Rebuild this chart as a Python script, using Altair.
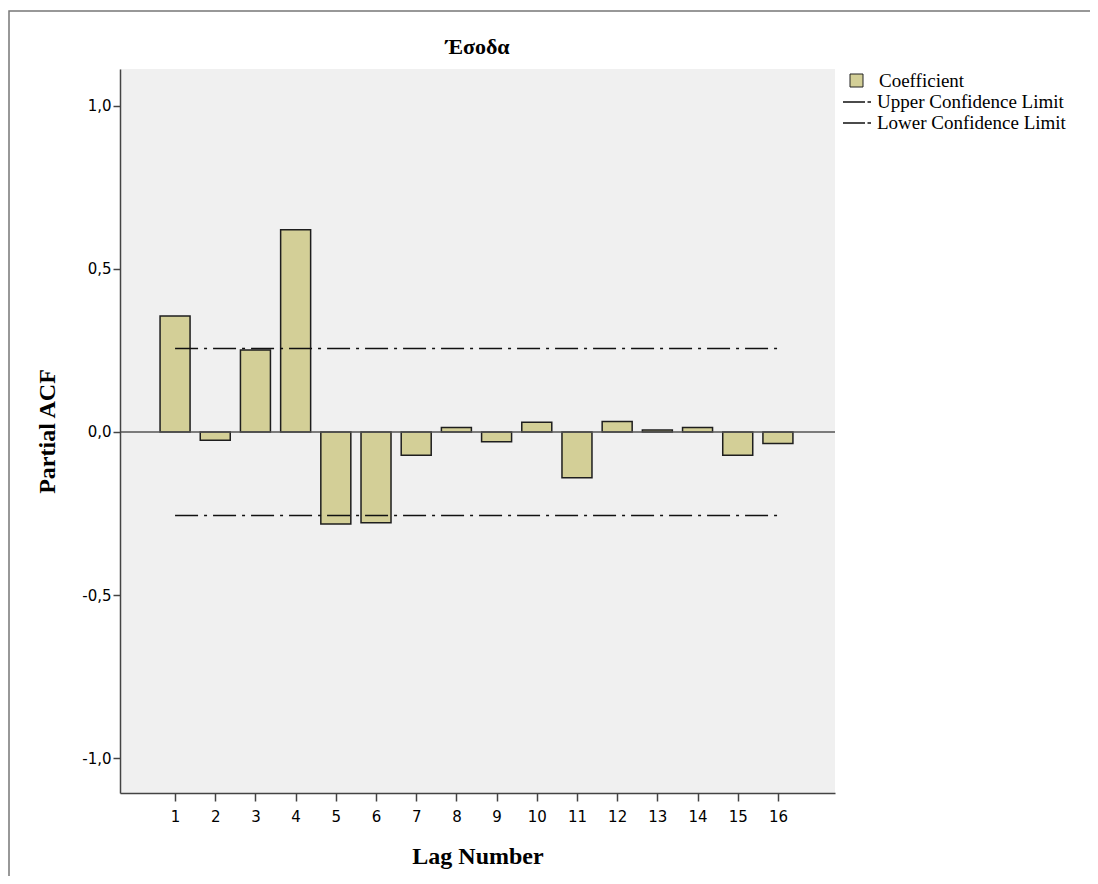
import altair as alt
import pandas as pd

# ---- data ----
lags = [1, 2, 3, 4, 5, 6, 7, 8, 9, 10, 11, 12, 13, 14, 15, 16]
coefficients = [0.356, -0.025, 0.251, 0.620, -0.282, -0.278, -0.071, 0.014,
                -0.030, 0.030, -0.140, 0.032, 0.006, 0.014, -0.071, -0.035]
upper_limit = [0.256, 0.256, 0.256, 0.256, 0.256, 0.256, 0.256, 0.256,
               0.256, 0.256, 0.256, 0.256, 0.256, 0.256, 0.256, 0.256]
lower_limit = [-0.256, -0.256, -0.256, -0.256, -0.256, -0.256, -0.256, -0.256,
               -0.256, -0.256, -0.256, -0.256, -0.256, -0.256, -0.256, -0.256]
y_ticks = [-1.0, -0.5, 0.0, 0.5, 1.0]
series_names = ["Coefficient", "Upper Confidence Limit", "Lower Confidence Limit"]
title_text = "Έσοδα"

bars_df = pd.DataFrame({"lag": lags, "value": coefficients,
                        "series": [series_names[0]] * len(lags)})
limits_df = pd.concat([
    pd.DataFrame({"lag": lags, "value": upper_limit, "limit": series_names[1]}),
    pd.DataFrame({"lag": lags, "value": lower_limit, "limit": series_names[2]}),
])

SERIF = "Liberation Serif"
SANS = "DejaVu Sans"
AXIS_COLOR = "#444444"

x_scale = alt.Scale(domain=[-0.37, 17.42], nice=False, zero=False, padding=0)
y_scale = alt.Scale(domain=[-1.107, 1.113], nice=False, zero=False, padding=0)

x_axis = alt.Axis(values=lags, title="Lag Number", grid=False, zindex=2,
                  tickSize=8, tickWidth=1.5, tickColor=AXIS_COLOR,
                  domainColor=AXIS_COLOR, domainWidth=1.5,
                  labelFont=SANS, labelFontSize=15, labelColor="black", labelPadding=8,
                  titleFont=SERIF, titleFontSize=24, titleFontWeight="bold",
                  titleColor="black", titlePadding=20)
y_axis = alt.Axis(values=y_ticks, title="Partial ACF", grid=False, zindex=2,
                  labelExpr="replace(replace(format(datum.value, '.1f'), '.', ','), '\u2212', '-')",
                  tickSize=7, tickWidth=1.5, tickColor=AXIS_COLOR,
                  domainColor=AXIS_COLOR, domainWidth=1.5,
                  labelFont=SANS, labelFontSize=15, labelColor="black", labelPadding=2,
                  titleFont=SERIF, titleFontSize=24, titleFontWeight="bold",
                  titleColor="black", titlePadding=22)

plot_bg = alt.Chart(pd.DataFrame({"k": [0]})).mark_rect(
    fill="#F0F0F0", strokeWidth=0
).encode(x=alt.value(0), x2=alt.value(715), y=alt.value(0), y2=alt.value(724))

frame = alt.Chart(pd.DataFrame({"k": [0]})).mark_rect(
    fillOpacity=0, stroke="#777777", strokeWidth=1.5
).encode(x=alt.value(-111), x2=alt.value(1300), y=alt.value(-58), y2=alt.value(1100))

bars = alt.Chart(bars_df).mark_bar(size=30, stroke="#1e1e1e", strokeWidth=1.5).encode(
    x=alt.X("lag:Q", scale=x_scale, axis=x_axis),
    y=alt.Y("value:Q", scale=y_scale, axis=y_axis),
    y2=alt.datum(0),
    fill=alt.Fill("series:N",
                  scale=alt.Scale(domain=[series_names[0]], range=["#D3CF97"]),
                  legend=alt.Legend(title=None, orient="none", legendX=727, legendY=2,
                                    symbolType="square", symbolSize=169,
                                    symbolStrokeColor="#222222", symbolStrokeWidth=1,
                                    labelFont=SERIF, labelFontSize=19, labelColor="black",
                                    labelOffset=13, labelLimit=400, padding=0)),
)

zero_rule = alt.Chart(pd.DataFrame({"z": [0.0]})).mark_rule(
    color="#555555", strokeWidth=1.5
).encode(y=alt.Y("z:Q", scale=y_scale))

limit_lines = alt.Chart(limits_df).mark_line(
    strokeDash=[23, 6, 3, 6], strokeWidth=1.5
).encode(
    x=alt.X("lag:Q", scale=x_scale),
    y=alt.Y("value:Q", scale=y_scale),
    stroke=alt.Stroke("limit:N",
                      scale=alt.Scale(domain=series_names[1:], range=["#111111", "#111111"]),
                      sort=series_names[1:],
                      legend=alt.Legend(title=None, orient="none", legendX=726, legendY=22,
                                        symbolType="M-1.4,0H0.8M1.05,0H1.4",
                                        symbolSize=400, symbolStrokeWidth=1.5,
                                        labelFont=SERIF, labelFontSize=19, labelColor="black",
                                        labelOffset=9, labelLimit=400, padding=0,
                                        rowPadding=0)),
)

chart = alt.layer(plot_bg, frame, bars, zero_rule, limit_lines).properties(
    width=715, height=724,
    background="white",
    title=alt.TitleParams(title_text, font=SERIF, fontSize=22, fontWeight="bold",
                          color="black", anchor="middle", offset=0,
                          baseline="alphabetic", dy=66),
    autosize=alt.AutoSizeParams(type="none"),
    padding={"left": 112, "top": 61, "right": 255, "bottom": 83},
).configure_view(stroke="transparent")

chart.save("out.html", embed_options={"renderer": "svg", "actions": False})
